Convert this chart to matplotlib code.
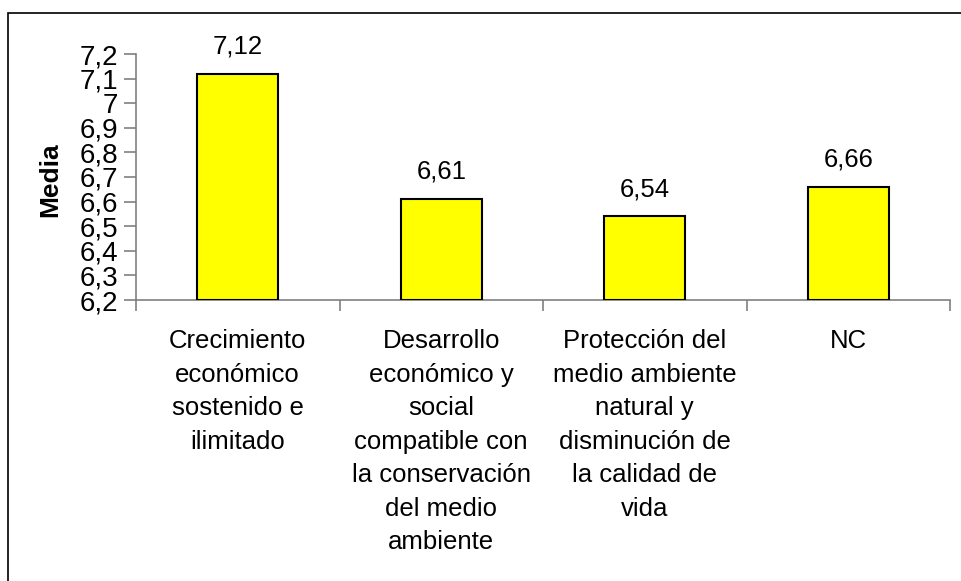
import matplotlib.pyplot as plt
from matplotlib.patches import Rectangle

# values
categorias = [
    "Crecimiento\neconómico\nsostenido e\nilimitado",
    "Desarrollo\neconómico y\nsocial\ncompatible con\nla conservación\ndel medio\nambiente",
    "Protección del\nmedio ambiente\nnatural y\ndisminución de\nla calidad de\nvida",
    "NC",
]
medias = [7.12, 6.61, 6.54, 6.66]
etiquetas = ["7,12", "6,61", "6,54", "6,66"]
yticks = [6.2, 6.3, 6.4, 6.5, 6.6, 6.7, 6.8, 6.9, 7.0, 7.1, 7.2]

plt.rcParams['font.family'] = ['Liberation Sans', 'DejaVu Sans']

fig = plt.figure(figsize=(9.62, 5.81), dpi=100)
ax = fig.add_axes([136/962, 1 - 300/581, (950-136)/962, (300-54)/581])

x = list(range(len(medias)))
base = 6.2
ax.bar(x, [m - base for m in medias], bottom=base, width=0.4,
       color='#ffff00', edgecolor='black', linewidth=1.5, zorder=3)

for xi, m, t in zip(x, medias, etiquetas):
    ax.annotate(t, (xi, m), xytext=(0, 11), textcoords='offset points',
                ha='center', va='bottom', fontsize=18.5)

ax.set_xlim(-0.5, 3.5)
ax.set_ylim(6.2, 7.2)
ax.set_yticks(yticks)
ax.set_yticklabels([("%g" % v).replace('.', ',') for v in yticks], fontsize=20)
ax.set_xticks(x)
ax.set_xticklabels(categorias, fontsize=18.5, linespacing=1.5, va='top')
ax.set_xticks([-0.5, 0.5, 1.5, 2.5, 3.5], minor=True)
ax.tick_params(axis='x', which='major', length=0, pad=21)
ax.tick_params(axis='x', which='minor', length=8, color='#808080', width=1.2)
ax.tick_params(axis='y', length=9, color='#808080', width=1.2, pad=4)

for s in ['top', 'right']:
    ax.spines[s].set_visible(False)
for s in ['left', 'bottom']:
    ax.spines[s].set_color('#808080')
    ax.spines[s].set_linewidth(1.2)

ax.set_ylabel("Media", fontsize=19, fontweight='bold')
ax.yaxis.set_label_coords(-0.09, 0.49)

fig.patches.append(Rectangle((8/962, -0.2), 1.2, 1.2 - 13/581,
                             transform=fig.transFigure, fill=False,
                             edgecolor='black', linewidth=1.2))

fig.savefig("out.png", dpi=100)
